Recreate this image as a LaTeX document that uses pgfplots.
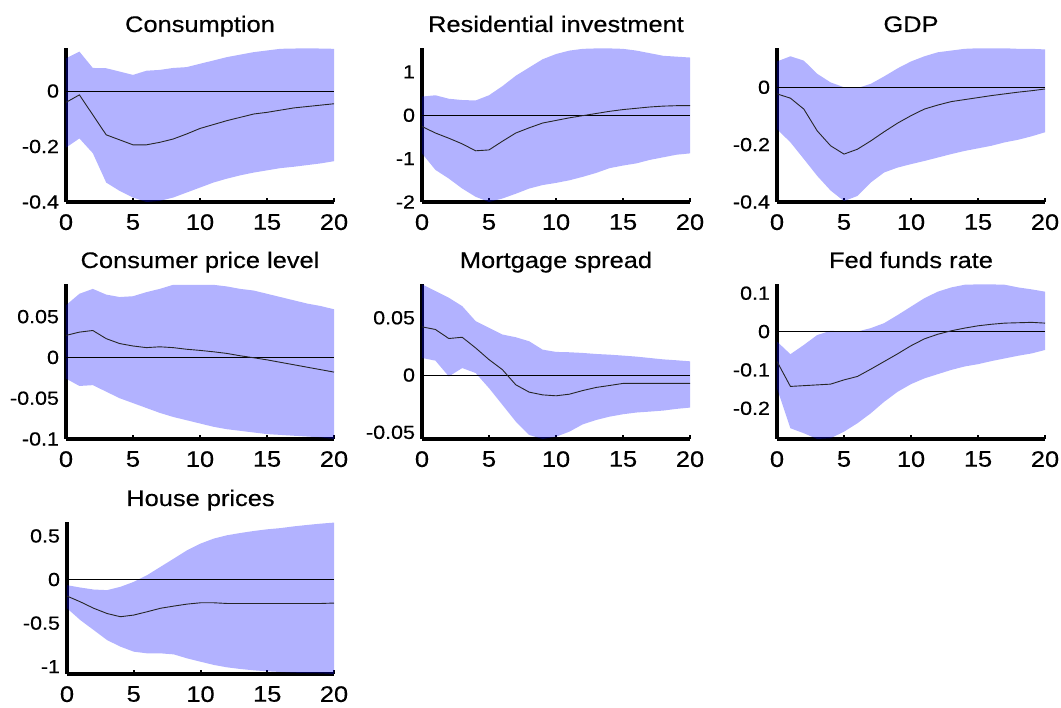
\documentclass[border=0pt]{standalone}
\usepackage{fontspec}
\setmainfont{Liberation Sans}[FakeStretch=1.13, FakeBold=0.4]
\usepackage{pgfplots}
\pgfplotsset{compat=1.18}

\pgfplotsset{
  irf/.style={
    scale only axis, width=268pt, height=154pt,
    anchor=south west,
    xmin=0, xmax=20,
    xtick={0,5,10,15,20}, xticklabels={0,5,10,15,20},
    axis x line*=bottom, axis y line*=left,
    axis line style={line width=3.3pt, black, -},
    tick align=inside,
    major tick length=3.8pt,
    xtick style={line width=2pt, black},
    ytick style={draw=none},
    scaled y ticks=false,
    yticklabel style={font=\fontsize{19}{22}\selectfont, xshift=-3.5pt},
    xticklabel style={font=\fontsize{22.5}{25}\selectfont, yshift=-10pt, inner sep=2pt},
    /pgf/number format/assume math mode=true,
    title style={font=\fontsize{22.5}{25}\selectfont, at={(0.5,1)}, anchor=base, yshift=10pt},
  },
  band/.style={fill=blue, fill opacity=0.3, draw=none},
  zero/.style={black, line width=0.6pt},
  med/.style={black!85, line width=0.9pt},
}

\begin{document}
\begin{tikzpicture}
\path[use as bounding box] (0pt,0pt) rectangle (1061pt,708pt);

% Consumption
\begin{axis}[irf, at={(66pt,506pt)}, title={Consumption},
  ymin=-0.4, ymax=0.155, ytick={-0.4,-0.2,0}, yticklabels={-0.4,-0.2,0}]
\addplot[band] coordinates {
(0,0.118) (1,0.142) (2,0.083) (3,0.082) (4,0.070) (5,0.058) (6,0.073) (7,0.076) (8,0.083) (9,0.086) (10,0.098)
(11,0.110) (12,0.122) (13,0.131) (14,0.140) (15,0.146) (16,0.152) (17,0.153) (18,0.154) (19,0.153) (20,0.152)
(20,-0.253) (19,-0.261) (18,-0.267) (17,-0.273) (16,-0.278) (15,-0.286) (14,-0.294) (13,-0.304) (12,-0.316) (11,-0.330)
(10,-0.348) (9,-0.366) (8,-0.384) (7,-0.396) (6,-0.400) (5,-0.384) (4,-0.360) (3,-0.330) (2,-0.224) (1,-0.171) (0,-0.204)
} -- cycle;
\addplot[zero] coordinates {(0,0) (20,0)};
\addplot[med] coordinates {
(0,-0.041) (1,-0.014) (2,-0.086) (3,-0.158) (4,-0.176) (5,-0.194) (6,-0.194) (7,-0.185) (8,-0.173) (9,-0.155) (10,-0.135)
(11,-0.121) (12,-0.107) (13,-0.095) (14,-0.083) (15,-0.077) (16,-0.069) (17,-0.061) (18,-0.056) (19,-0.051) (20,-0.046)};
\end{axis}

% Residential investment
\begin{axis}[irf, at={(422pt,506pt)}, title={Residential investment},
  ymin=-2, ymax=1.55, ytick={-2,-1,0,1}, yticklabels={-2,-1,0,1}]
\addplot[band] coordinates {
(0,0.43) (1,0.46) (2,0.38) (3,0.35) (4,0.34) (5,0.46) (6,0.67) (7,0.91) (8,1.10) (9,1.29) (10,1.41)
(11,1.49) (12,1.53) (13,1.54) (14,1.54) (15,1.53) (16,1.49) (17,1.43) (18,1.37) (19,1.35) (20,1.33)
(20,-0.88) (19,-0.91) (18,-0.97) (17,-1.03) (16,-1.11) (15,-1.16) (14,-1.22) (13,-1.33) (12,-1.42) (11,-1.50)
(10,-1.56) (9,-1.61) (8,-1.69) (7,-1.81) (6,-1.92) (5,-2.00) (4,-1.88) (3,-1.69) (2,-1.46) (1,-1.26) (0,-0.88)
} -- cycle;
\addplot[zero] coordinates {(0,0) (20,0)};
\addplot[med] coordinates {
(0,-0.26) (1,-0.41) (2,-0.53) (3,-0.66) (4,-0.82) (5,-0.80) (6,-0.60) (7,-0.41) (8,-0.29) (9,-0.18) (10,-0.12)
(11,-0.06) (12,-0.01) (13,0.04) (14,0.09) (15,0.13) (16,0.16) (17,0.19) (18,0.21) (19,0.22) (20,0.22)};
\end{axis}

% GDP
\begin{axis}[irf, at={(777pt,506pt)}, title={GDP},
  ymin=-0.4, ymax=0.137, ytick={-0.4,-0.2,0}, yticklabels={-0.4,-0.2,0}]
\addplot[band] coordinates {
(0,0.090) (1,0.108) (2,0.093) (3,0.047) (4,0.017) (5,0.000) (6,-0.003) (7,0.012) (8,0.038) (9,0.066) (10,0.090)
(11,0.108) (12,0.122) (13,0.128) (14,0.134) (15,0.136) (16,0.136) (17,0.136) (18,0.134) (19,0.134) (20,0.132)
(20,-0.157) (19,-0.171) (18,-0.183) (17,-0.192) (16,-0.204) (15,-0.213) (14,-0.222) (13,-0.233) (12,-0.245) (11,-0.257)
(10,-0.268) (9,-0.280) (8,-0.297) (7,-0.332) (6,-0.379) (5,-0.397) (4,-0.360) (3,-0.309) (2,-0.250) (1,-0.192) (0,-0.146)
} -- cycle;
\addplot[zero] coordinates {(0,0) (20,0)};
\addplot[med] coordinates {
(0,-0.023) (1,-0.038) (2,-0.076) (3,-0.152) (4,-0.204) (5,-0.233) (6,-0.216) (7,-0.187) (8,-0.155) (9,-0.125) (10,-0.099)
(11,-0.076) (12,-0.062) (13,-0.050) (14,-0.043) (15,-0.036) (16,-0.029) (17,-0.023) (18,-0.017) (19,-0.012) (20,-0.006)};
\end{axis}

% Consumer price level
\begin{axis}[irf, at={(66pt,269pt)}, height=155pt, title={Consumer price level},
  ymin=-0.1, ymax=0.09, ytick={-0.1,-0.05,0,0.05}, yticklabels={-0.1,-0.05,0,0.05}]
\addplot[band] coordinates {
(0,0.064) (1,0.078) (2,0.084) (3,0.077) (4,0.074) (5,0.075) (6,0.080) (7,0.084) (8,0.089) (9,0.089) (10,0.089)
(11,0.089) (12,0.087) (13,0.084) (14,0.082) (15,0.078) (16,0.074) (17,0.070) (18,0.066) (19,0.063) (20,0.059)
(20,-0.100) (19,-0.098) (18,-0.097) (17,-0.096) (16,-0.095) (15,-0.094) (14,-0.092) (13,-0.090) (12,-0.088) (11,-0.085)
(10,-0.081) (9,-0.077) (8,-0.073) (7,-0.068) (6,-0.062) (5,-0.056) (4,-0.050) (3,-0.042) (2,-0.034) (1,-0.035) (0,-0.026)
} -- cycle;
\addplot[zero] coordinates {(0,0) (20,0)};
\addplot[med] coordinates {
(0,0.027) (1,0.031) (2,0.033) (3,0.023) (4,0.017) (5,0.014) (6,0.012) (7,0.013) (8,0.012) (9,0.010) (10,0.0086)
(11,0.0069) (12,0.0049) (13,0.002) (14,-0.0004) (15,-0.003) (16,-0.006) (17,-0.009) (18,-0.012) (19,-0.015) (20,-0.018)};
\end{axis}

% Mortgage spread
\begin{axis}[irf, at={(422pt,269pt)}, height=155pt, title={Mortgage spread},
  ymin=-0.0558, ymax=0.0795, ytick={-0.05,0,0.05}, yticklabels={-0.05,0,0.05}]
\addplot[band] coordinates {
(0,0.0792) (1,0.0734) (2,0.0675) (3,0.0602) (4,0.0471) (5,0.0412) (6,0.0354) (7,0.0330) (8,0.0295) (9,0.0222) (10,0.0202)
(11,0.0199) (12,0.0193) (13,0.0184) (14,0.0178) (15,0.0170) (16,0.0161) (17,0.0149) (18,0.0137) (19,0.0129) (20,0.0120)
(20,-0.0284) (19,-0.0295) (18,-0.0310) (17,-0.0319) (16,-0.0327) (15,-0.0342) (14,-0.0363) (13,-0.0392) (12,-0.0430) (11,-0.0494)
(10,-0.0538) (9,-0.0558) (8,-0.0523) (7,-0.0406) (6,-0.0260) (5,-0.0114) (4,0.0018) (3,0.0061) (2,-0.0012) (1,0.0126) (0,0.0149)
} -- cycle;
\addplot[zero] coordinates {(0,0) (20,0)};
\addplot[med] coordinates {
(0,0.0421) (1,0.0398) (2,0.0319) (3,0.0330) (4,0.0237) (5,0.0135) (6,0.0047) (7,-0.0085) (8,-0.0149) (9,-0.0173) (10,-0.0181)
(11,-0.0167) (12,-0.0135) (13,-0.0108) (14,-0.0091) (15,-0.0073) (16,-0.0073) (17,-0.0073) (18,-0.0073) (19,-0.0073) (20,-0.0073)};
\end{axis}

% Fed funds rate
\begin{axis}[irf, at={(777pt,269pt)}, height=155pt, title={Fed funds rate},
  ymin=-0.28, ymax=0.124, ytick={-0.2,-0.1,0,0.1}, yticklabels={-0.2,-0.1,0,0.1}]
\addplot[band] coordinates {
(0,-0.026) (1,-0.059) (2,-0.035) (3,-0.009) (4,0.002) (5,0.000) (6,0.000) (7,0.009) (8,0.022) (9,0.043) (10,0.065)
(11,0.087) (12,0.104) (13,0.115) (14,0.122) (15,0.123) (16,0.123) (17,0.122) (18,0.115) (19,0.110) (20,0.104)
(20,-0.048) (19,-0.057) (18,-0.063) (17,-0.070) (16,-0.077) (15,-0.085) (14,-0.091) (13,-0.100) (12,-0.111) (11,-0.122)
(10,-0.137) (9,-0.157) (8,-0.183) (7,-0.213) (6,-0.239) (5,-0.261) (4,-0.278) (3,-0.280) (2,-0.265) (1,-0.252) (0,-0.148)
} -- cycle;
\addplot[zero] coordinates {(0,0) (20,0)};
\addplot[med] coordinates {
(0,-0.078) (1,-0.143) (2,-0.141) (3,-0.139) (4,-0.137) (5,-0.126) (6,-0.117) (7,-0.098) (8,-0.078) (9,-0.058) (10,-0.037)
(11,-0.019) (12,-0.007) (13,0.002) (14,0.009) (15,0.015) (16,0.019) (17,0.022) (18,0.023) (19,0.024) (20,0.022)};
\end{axis}

% House prices
\begin{axis}[irf, at={(67pt,34pt)}, width=267pt, height=152pt, title={House prices},
  ymin=-1.084, ymax=0.66, ytick={-1,-0.5,0,0.5}, yticklabels={-1,-0.5,0,0.5}]
\addplot[band] coordinates {
(0,-0.065) (1,-0.092) (2,-0.115) (3,-0.122) (4,-0.084) (5,-0.027) (6,0.050) (7,0.145) (8,0.240) (9,0.336) (10,0.412)
(11,0.470) (12,0.508) (13,0.534) (14,0.557) (15,0.576) (16,0.590) (17,0.610) (18,0.626) (19,0.641) (20,0.653)
(20,-1.084) (19,-1.076) (18,-1.073) (17,-1.069) (16,-1.061) (15,-1.053) (14,-1.042) (13,-1.027) (12,-1.008) (11,-0.980)
(10,-0.943) (9,-0.905) (8,-0.859) (7,-0.847) (6,-0.847) (5,-0.828) (4,-0.770) (3,-0.695) (2,-0.580) (1,-0.466) (0,-0.330)
} -- cycle;
\addplot[zero] coordinates {(0,0) (20,0)};
\addplot[med] coordinates {
(0,-0.190) (1,-0.256) (2,-0.330) (3,-0.390) (4,-0.427) (5,-0.408) (6,-0.370) (7,-0.330) (8,-0.305) (9,-0.282) (10,-0.267)
(11,-0.267) (12,-0.275) (13,-0.275) (14,-0.275) (15,-0.275) (16,-0.275) (17,-0.275) (18,-0.275) (19,-0.275) (20,-0.270)};
\end{axis}
\end{tikzpicture}
\end{document}
